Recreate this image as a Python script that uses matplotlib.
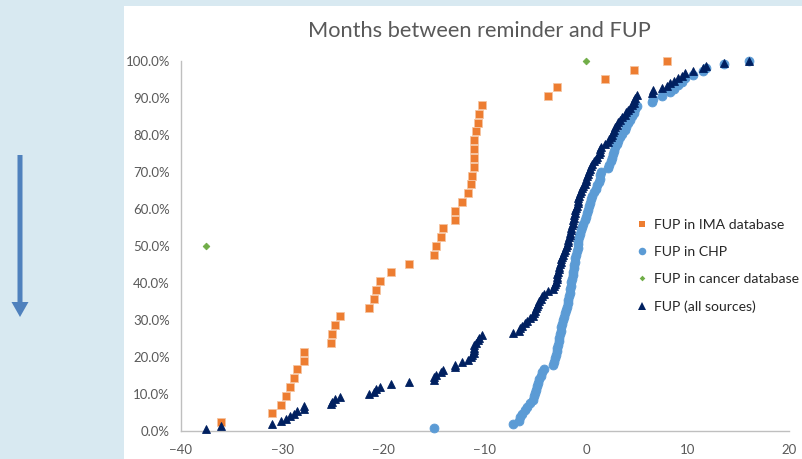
import matplotlib
matplotlib.use("Agg")
import matplotlib.pyplot as plt
from matplotlib.patches import Rectangle, Polygon
from matplotlib.lines import Line2D
from matplotlib.ticker import FuncFormatter

# ---------------- data ----------------
title = "Months between reminder and FUP"
series_labels = ["FUP in IMA database", "FUP in CHP", "FUP in cancer database", "FUP (all sources)"]
x_ticks = [-40, -30, -20, -10, 0, 10, 20]
y_ticks = [0, 10, 20, 30, 40, 50, 60, 70, 80, 90, 100]

# months between reminder and follow-up, per record
ima_x = [-36.1, -31.0, -30.1, -29.6, -29.2, -28.8, -28.6, -27.9, -27.9, -25.2,
         -25.1, -24.8, -24.3, -21.4, -21.0, -20.8, -20.4, -19.3, -17.5, -15.0,
         -14.8, -14.3, -14.1, -13.0, -13.0, -12.3, -11.7, -11.4, -11.3, -11.1,
         -11.1, -11.1, -11.1, -10.9, -10.7, -10.6, -10.3, -3.8, -2.9, 1.8,
         4.7, 8.0]

chp_x = [-15.0, -7.2, -6.6, -6.5, -6.3, -6.05, -5.9, -5.55, -5.3, -5.15,
         -5.05, -4.95, -4.82, -4.73, -4.65, -4.5, -4.33, -4.15, -3.3, -3.17,
         -3.08, -3.0, -2.94, -2.86, -2.78, -2.71, -2.66, -2.6, -2.54, -2.46,
         -2.38, -2.29, -2.2, -2.11, -2.03, -1.95, -1.85, -1.76, -1.71, -1.64,
         -1.59, -1.53, -1.47, -1.41, -1.36, -1.30, -1.25, -1.19, -1.13, -1.07,
         -0.99, -0.9, -0.86, -0.82, -0.79, -0.71, -0.62, -0.53, -0.45, -0.30,
         -0.16, -0.02, 0.07, 0.15, 0.23, 0.32, 0.42, 0.59, 0.76, 0.92,
         1.07, 1.21, 1.31, 1.34, 1.45, 2.15, 2.27, 2.42, 2.58, 2.67,
         2.75, 2.83, 2.98, 3.16, 3.33, 3.56, 3.81, 3.96, 4.1, 4.27,
         4.47, 4.66, 4.8, 5.0, 6.5, 6.6, 7.5, 8.3, 8.7, 9.0,
         9.4, 9.7, 10.5, 11.5, 11.8, 13.6, 16.1]

cancer_x = [-37.5, 0.0]

# "all sources" pools every record of the three sources
all_x = ima_x + chp_x + cancer_x


def cumulative_share(values):
    """Empirical cumulative share (%) of records up to each value."""
    s = sorted(values)
    n = len(s)
    return s, [100.0 * (i + 1) / n for i in range(n)]


# ---------------- figure ----------------
W, H = 803, 459
fig = plt.figure(figsize=(W / 100, H / 100), dpi=100)
fig.patch.set_facecolor("#d8e9f1")


def fx(px):
    return px / W


def fy(py):
    return 1 - py / H


# white chart area
fig.patches.append(Rectangle((fx(124), 0), 1 - fx(124), fy(6),
                             transform=fig.transFigure, facecolor="white",
                             edgecolor="none", zorder=-10))
# blue down arrow on slide background
arrow_pts = [(17.5, 155), (22.5, 155), (22.5, 302), (28.5, 302), (20, 317),
             (11.5, 302), (17.5, 302)]
fig.patches.append(Polygon([(fx(a), fy(b)) for a, b in arrow_pts],
                           closed=True, transform=fig.transFigure,
                           facecolor="#4f81bd", edgecolor="none", zorder=-9))

ax = fig.add_axes([fx(181), fy(431), fx(789) - fx(181), fy(61) - fy(431)])
ax.set_zorder(5)
ax.patch.set_visible(False)

font = "Lato"
grey = "#595959"

styles = [
    dict(marker="s", color="#ed7d31", ms=5.5, ec="#f6c4a0"),
    dict(marker="o", color="#5b9bd5", ms=6.4, ec="#5b9bd5"),
    dict(marker="D", color="#70ad47", ms=3.4, ec="#70ad47"),
    dict(marker="^", color="#002060", ms=6.0, ec="#002060"),
]
data = [ima_x, chp_x, cancer_x, all_x]

for vals, st, lab in zip(data, styles, series_labels):
    xs, ys = cumulative_share(vals)
    ax.plot(xs, ys, linestyle="none", marker=st["marker"], color=st["color"],
            markersize=st["ms"], markeredgewidth=0.6, markeredgecolor=st["ec"],
            clip_on=False, label=lab, zorder=3)

ax.set_xlim(-40, 20)
ax.set_ylim(0, 100)
ax.set_xticks(x_ticks)
ax.set_yticks(y_ticks)
ax.yaxis.set_major_formatter(FuncFormatter(lambda v, p: f"{v:.1f}%"))
for sp in ["top", "right"]:
    ax.spines[sp].set_visible(False)
for sp in ["left", "bottom"]:
    ax.spines[sp].set_color("#bfbfbf")
    ax.spines[sp].set_linewidth(1.0)
ax.tick_params(axis="both", length=0, labelsize=9.5, colors=grey)
ax.tick_params(axis="y", pad=8)
ax.tick_params(axis="x", pad=9)
for t in ax.get_xticklabels() + ax.get_yticklabels():
    t.set_fontfamily(font)

fig.text(fx(479), fy(31), title, ha="center", va="center", fontsize=15.7,
         color=grey, fontfamily=font)

handles = [Line2D([], [], linestyle="none", marker=st["marker"], color=st["color"],
                  markersize=st["ms"] * 0.85, markeredgewidth=0) for st in styles]
leg = ax.legend(handles, series_labels, loc="upper left",
                bbox_to_anchor=(fx(636), fy(219)), bbox_transform=fig.transFigure,
                frameon=False, fontsize=10.1, labelspacing=1.08, handlelength=0.8,
                handletextpad=0.5, borderaxespad=0, borderpad=0)
for t in leg.get_texts():
    t.set_fontfamily(font)
    t.set_color("#262626")

fig.savefig("out.png", dpi=100)
